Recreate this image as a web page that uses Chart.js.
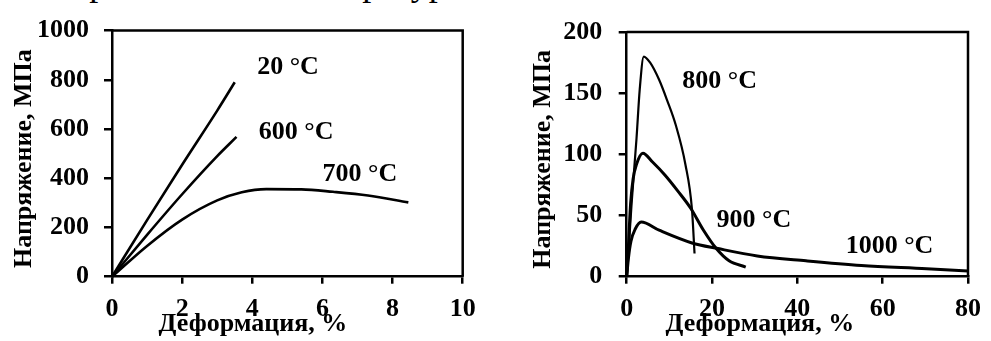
<!DOCTYPE html>
<html><head><meta charset="utf-8">
<script src="https://cdn.jsdelivr.net/npm/chart.js@4.4.0/dist/chart.umd.min.js"></script>
<style>
html,body{margin:0;padding:0;background:#fff;width:991px;height:341px;overflow:hidden;position:relative;}
#cap{position:absolute;left:70px;top:-35px;font:36px "Liberation Serif",serif;color:#000;white-space:nowrap;line-height:36px;}
.box{position:absolute;top:0;height:341px;}
#b1{left:0;width:495px;} #b2{left:495px;width:496px;}
</style></head><body>
<div id="cap">при высокой температуре</div>
<div class="box" id="b1"><canvas id="c1"></canvas></div>
<div class="box" id="b2"><canvas id="c2"></canvas></div>
<script>
// ---------- Left chart data (strain %, stress MPa) ----------
const strain20  = [0, 1.0, 2.0, 3.0, 3.5];
const stress20  = [0, 230, 455, 675, 790];
const strain600 = [0, 1.0, 2.0, 3.0, 3.55];
const stress600 = [0, 170, 335, 490, 568];
const strain700 = [0, 1.0, 2.0, 3.0, 3.7, 4.4, 5.4, 6.3, 7.3, 8.45];
const stress700 = [0, 125, 232, 310, 343, 356, 355, 345, 330, 302];
const xTicksL = [0, 2, 4, 6, 8, 10];
const yTicksL = [0, 200, 400, 600, 800, 1000];
const labelsL = ['20 °C', '600 °C', '700 °C'];
const labelXL = [5.02, 5.25, 7.07];
const labelYL = [849, 587, 416];

// ---------- Right chart data ----------
const strain800 = [0, 0.5, 1.15, 2.3, 3.05, 4.0, 5.5, 7.6, 9.5, 11.5, 13.75, 15.3, 15.9];
const stress800 = [0, 25, 60, 113, 153, 180, 175, 161, 144, 124, 92, 55, 19];
const strain900 = [0, 0.4, 0.92, 1.5, 2.3, 3.8, 6, 9, 12, 15, 18, 21, 24, 27.9];
const stress900 = [0, 25, 60, 80, 92, 101, 94, 83, 70, 56, 38, 23, 13, 7.9];
const strain1000 = [0, 0.4, 1.0, 2.0, 3.4, 7.6, 15.3, 21.4, 30.6, 42, 55, 70.3, 80];
const stress1000 = [0, 15, 29, 39, 44.7, 38, 27.6, 23, 17, 13, 9.2, 6.6, 4.7];
const xTicksR = [0, 20, 40, 60, 80];
const yTicksR = [0, 50, 100, 150, 200];
const labelsR = ['800 °C', '900 °C', '1000 °C'];
const labelXR = [21.8, 29.8, 61.6];
const labelYR = [160, 46.3, 25];

const xTitle = 'Деформация, %';
const yTitle = 'Напряжение, МПа';
const FONT = '"Liberation Serif", "Times New Roman", serif';

const pts = (xs, ys) => xs.map((x, i) => ({x, y: ys[i]}));
const ds = (xs, ys, w) => ({data: pts(xs, ys), showLine: true, borderColor: '#000', borderWidth: w,
  pointRadius: 0, cubicInterpolationMode: 'monotone', fill: false, clip: false});

const framePlugin = {
  id: 'frame',
  afterDatasetsDraw(chart, args, o) {
    const {ctx, chartArea: a, scales} = chart;
    ctx.save();
    ctx.strokeStyle = '#000'; ctx.lineWidth = 2.5;
    ctx.beginPath(); ctx.moveTo(a.left, a.top); ctx.lineTo(a.right, a.top); ctx.lineTo(a.right, a.bottom); ctx.stroke();
    ctx.fillStyle = '#000';
    ctx.font = 'bold 26px ' + FONT;
    ctx.textAlign = 'center'; ctx.textBaseline = 'middle';
    o.texts.forEach((t, i) => ctx.fillText(t, scales.x.getPixelForValue(o.xs[i]), scales.y.getPixelForValue(o.ys[i])));
    ctx.font = 'bold ' + o.titleSize + 'px ' + FONT;
    ctx.fillText(xTitle, (a.left + a.right) / 2 + o.xTitleDx, a.bottom + o.xTitleDy);
    ctx.save();
    ctx.translate(o.yTitleX, (a.top + a.bottom) / 2 + o.yTitleDy);
    ctx.rotate(-Math.PI / 2);
    ctx.fillText(yTitle, 0, 0);
    ctx.restore();
    ctx.restore();
  }
};

function axis(min, max, tickVals, isY, fitSize, pad) {
  return {
    type: 'linear', min, max,
    afterBuildTicks: s => { s.ticks = tickVals.map(v => ({value: v})); },
    afterFit: s => { if (isY) s.width = fitSize; else s.height = fitSize; },
    grid: {display: true, drawOnChartArea: false, drawTicks: true, tickLength: isY ? 8 : 7, color: '#000', lineWidth: 2.5},
    border: {display: true, color: '#000', width: 2.5},
    ticks: {color: '#000', font: {family: FONT, size: 26, weight: 'bold'}, padding: pad, maxRotation: 0, autoSkip: false,
      callback: v => String(v)},
    title: {display: false}
  };
}

function make(id, datasets, xr, yr, xt, yt, yW, yPad, layoutPad, lab) {
  new Chart(document.getElementById(id), {
    type: 'scatter',
    data: {datasets},
    options: {
      responsive: true, maintainAspectRatio: false, animation: false,
      layout: {padding: layoutPad},
      plugins: {legend: {display: false}, tooltip: {enabled: false}, frame: lab},
      scales: {
        x: axis(xr[0], xr[1], xt, false, 64.3, 10),
        y: axis(yr[0], yr[1], yt, true, yW, yPad)
      }
    },
    plugins: [framePlugin]
  });
}

make('c1', [ds(strain20, stress20, 2.6), ds(strain600, stress600, 2.6), ds(strain700, stress700, 2.6)],
  [0, 10], [0, 1000], xTicksL, yTicksL, 112, 15, {top: 22.7, right: 32.3, bottom: 0, left: 0},
  {texts: labelsL, xs: labelXL, ys: labelYL, titleSize: 26, xTitleDx: -34.4, xTitleDy: 48, yTitleX: 24, yTitleDy: 5});

make('c2', [ds(strain800, stress800, 2.2), ds(strain900, stress900, 3), ds(strain1000, stress1000, 3)],
  [0, 80], [0, 200], xTicksR, yTicksR, 131.7, 16.5, {top: 23.3, right: 15, bottom: 0, left: 0},
  {texts: labelsR, xs: labelXR, ys: labelYR, titleSize: 26, xTitleDx: -37.5, xTitleDy: 48, yTitleX: 48, yTitleDy: 5});
</script>
</body></html>
